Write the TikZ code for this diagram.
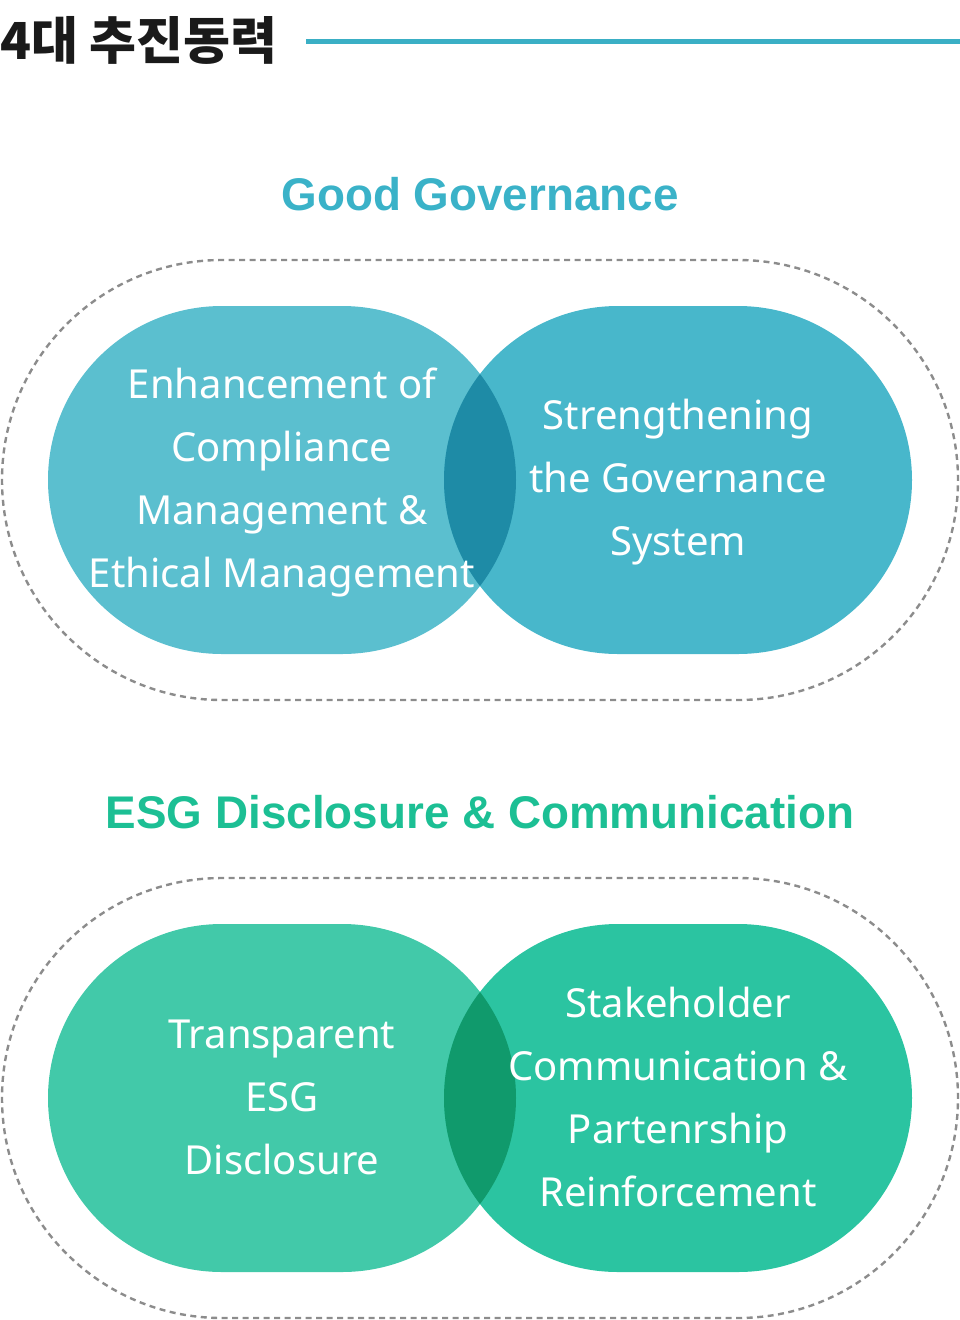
\documentclass[tikz,border=0pt]{standalone}
\usepackage{fontspec}
\setmainfont{Noto Sans}
\newfontfamily\krfont{Noto Sans CJK KR}
\newfontfamily\headfont{Liberation Sans}
\usetikzlibrary{shapes.misc}
\definecolor{titlecol}{HTML}{1A1A1A}
\definecolor{linecol}{HTML}{3AAFC5}
\definecolor{ggcol}{HTML}{3AB2C8}
\definecolor{esgcol}{HTML}{1CBF94}
\definecolor{gA}{HTML}{5BBFCF}
\definecolor{gB}{HTML}{48B7CB}
\definecolor{gO}{HTML}{1E8BA6}
\definecolor{eA}{HTML}{42C9A9}
\definecolor{eB}{HTML}{2BC4A1}
\definecolor{eO}{HTML}{109A6C}
\definecolor{dashcol}{HTML}{8C8C8C}
\tikzset{
  pill/.style={rounded rectangle, minimum width=468pt, minimum height=348pt, inner sep=0pt, draw=none},
  outerpill/.style={rounded rectangle, minimum width=956pt, minimum height=440pt, inner sep=0pt, draw=dashcol, line width=2.4pt, dash pattern=on 6pt off 4.5pt},
  label/.style={text=white, align=center, inner sep=0pt, font=\fontsize{40}{63}\selectfont},
  head/.style={inner sep=0pt, font=\headfont\bfseries\fontsize{45.8}{52}\selectfont},
}
\begin{document}
\begin{tikzpicture}[x=1pt,y=-1pt]
\useasboundingbox (0,0) rectangle (960,1320);
% title
\node[anchor=west, inner sep=0pt, text=titlecol, font=\krfont\bfseries\fontsize{51}{56}\selectfont] (title) at (0,40) {4대 추진동력};
\coordinate (linestart) at (306,41);
\coordinate (lineend) at (960,41);
\draw[linecol, line width=5pt] (linestart) -- (lineend);

% Good Governance
\node[head, text=ggcol] (ggtitle) at (480,194) {Good Governance};
\node[outerpill] (ggouter) at (480,480) {};
\node[pill, fill=gA] (ggA) at (282,480) {};
\node[pill, fill=gB] (ggB) at (678,480) {};
\begin{scope}
  \clip[rounded corners=174pt] (48,306) rectangle (516,654);
  \fill[gO, rounded corners=174pt] (444,306) rectangle (912,654);
\end{scope}
\node[label] (ggAtext) at (282,482) {Enhancement of\\Compliance\\Management \&\\Ethical Management};
\node[label] (ggBtext) at (678,482) {Strengthening\\the Governance\\System};

% ESG
\node[head, text=esgcol] (esgtitle) at (480,812) {ESG Disclosure \& Communication};
\node[outerpill] (esgouter) at (480,1098) {};
\node[pill, fill=eA] (esgA) at (282,1098) {};
\node[pill, fill=eB] (esgB) at (678,1098) {};
\begin{scope}
  \clip[rounded corners=174pt] (48,924) rectangle (516,1272);
  \fill[eO, rounded corners=174pt] (444,924) rectangle (912,1272);
\end{scope}
\node[label] (esgAtext) at (282,1097) {Transparent\\ESG\\Disclosure};
\node[label] (esgBtext) at (678,1097) {Stakeholder\\Communication \&\\Partenrship\\Reinforcement};
\end{tikzpicture}
\end{document}
